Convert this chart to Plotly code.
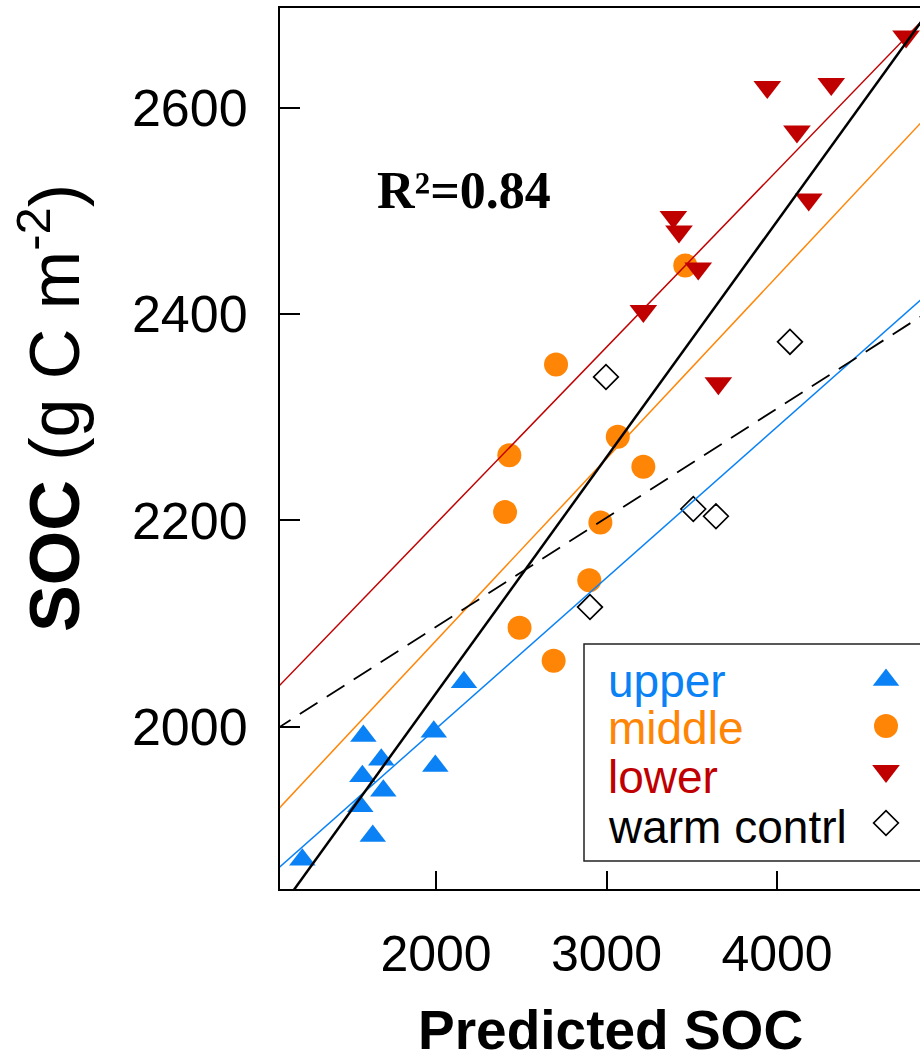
import plotly.graph_objects as go

# ---------------- data ----------------
upper_x = [2164, 1987, 1574, 1679, 1568, 1996, 1691, 1556, 1629, 1216]
upper_y = [2043, 1995, 1991, 1968, 1952, 1962, 1938, 1923, 1894, 1871]

middle_x = [2704, 2430, 3066, 3216, 2405, 2964, 2899, 2490, 2690, 3462]
middle_y = [2351, 2263, 2281, 2252, 2208, 2198, 2142, 2096, 2064, 2447]

lower_x = [4757, 3943, 4318, 4117, 4186, 3392, 3425, 3538, 3216, 3656]
lower_y = [2669, 2620, 2623, 2577, 2511, 2494, 2480, 2444, 2403, 2333]

warm_x = [2997, 4076, 3509, 3642, 2903]
warm_y = [2339, 2373, 2211, 2204, 2116]

# fitted lines y = a + b*x
line_names = ["upper", "middle", "lower", "all", "warm contrl"]
line_a = [1705.7, 1730.4, 1854.9, 1575.1, 1885.2]
line_b = [0.1462, 0.1765, 0.1710, 0.2287, 0.1058]

x_ticks = [2000, 3000, 4000]
y_ticks = [2000, 2200, 2400, 2600]
x_range = [1085.0, 4838.7]
y_range = [1842.7, 2696.6]

legend_labels = ["upper", "middle", "lower", "warm contrl"]

# ---------------- styles ----------------
BLUE = "#0A82F5"
ORANGE = "#FF8506"
RED = "#C00000"
BLACK = "#000000"
SANS = "Liberation Sans, Arial, sans-serif"

FIG_W, FIG_H = 920, 1060
PL, PR, PT, PB = 280, 920, 8, 889          # plot area in page pixels


def px(xp):
    return (xp - PL) / (PR - PL)


def py(yp):
    return (PB - yp) / (PB - PT)


def paper_to_data_x(f):
    return x_range[0] + f * (x_range[1] - x_range[0])


def paper_to_data_y(f):
    return y_range[0] + f * (y_range[1] - y_range[0])


fig = go.Figure()

marker_specs = [
    (upper_x, upper_y, "triangle-up", BLUE, 23, None),
    (middle_x, middle_y, "circle", ORANGE, 24, None),
    (lower_x, lower_y, "triangle-down", RED, 24, None),
    (warm_x, warm_y, "diamond-open", BLACK, 19, 1.7),
]
for xs, ys, sym, col, sz, lw in marker_specs:
    mk = dict(symbol=sym, color=col, size=sz, opacity=1)
    mk["line"] = dict(color=col, width=lw if lw is not None else 0)
    fig.add_trace(go.Scatter(x=xs, y=ys, mode="markers", marker=mk,
                             showlegend=False, hoverinfo="skip"))

line_styles = [
    dict(color=BLUE, width=1.5),
    dict(color=ORANGE, width=1.5),
    dict(color=RED, width=1.5),
    dict(color=BLACK, width=2.5),
    dict(color=BLACK, width=1.8, dash="21px,11px"),
]
for a, b, st in zip(line_a, line_b, line_styles):
    xs = [x_range[0] - 200, x_range[1] + 200]
    ys = [a + b * v for v in xs]
    fig.add_trace(go.Scatter(x=xs, y=ys, mode="lines", line=st,
                             showlegend=False, hoverinfo="skip"))

# ---- custom legend (marker on the right of the label) ----
leg_text_y = [681, 728, 777, 827]
leg_mark_y = [680, 726, 771, 823]
leg_cols = [BLUE, ORANGE, RED, BLACK]
leg_syms = ["triangle-up", "circle", "triangle-down", "diamond-open"]
leg_sizes = [23, 24, 24, 19]

fig.add_shape(type="rect", xref="paper", yref="paper",
              x0=px(584), x1=px(960), y0=py(861), y1=py(644),
              line=dict(color="#222222", width=1.5), fillcolor="white", layer="below")

for lab, ty, col in zip(legend_labels, leg_text_y, leg_cols):
    fig.add_annotation(text=lab, xref="paper", yref="paper", x=px(606), y=py(ty),
                       xanchor="left", yanchor="middle", showarrow=False,
                       font=dict(family=SANS, size=46, color=col))

for sym, col, sz, my in zip(leg_syms, leg_cols, leg_sizes, leg_mark_y):
    open_sym = sym.endswith("open")
    fig.add_trace(go.Scatter(
        x=[paper_to_data_x(px(886))], y=[paper_to_data_y(py(my))], mode="markers",
        marker=dict(symbol=sym, color=col, size=sz, opacity=1,
                    line=dict(color=col, width=1.7 if open_sym else 0)),
        showlegend=False, hoverinfo="skip"))

# ---- texts ----
fig.add_annotation(text="<b>R²=0.84</b>", xref="paper", yref="paper",
                   x=px(464), y=py(190), xanchor="center", yanchor="middle",
                   showarrow=False,
                   font=dict(family="Liberation Serif, Times New Roman, serif", size=52, color=BLACK))

fig.add_annotation(text="<b>SOC</b> (g C m<sup>-2</sup>)", xref="paper", yref="paper",
                   x=px(50), y=py(408), xanchor="center", yanchor="middle",
                   textangle=-90, showarrow=False,
                   font=dict(family=SANS, size=70, color=BLACK))

fig.add_annotation(text="<b>Predicted SOC</b>", xref="paper", yref="paper",
                   x=px(610), y=py(1030), xanchor="center", yanchor="middle",
                   showarrow=False,
                   font=dict(family=SANS, size=55, color=BLACK))

fig.update_layout(
    width=FIG_W, height=FIG_H,
    margin=dict(l=PL, r=FIG_W - PR, t=PT, b=FIG_H - PB, pad=0),
    paper_bgcolor="white", plot_bgcolor="white",
    showlegend=False,
    xaxis=dict(range=x_range, tickvals=x_ticks, ticktext=[str(v) for v in x_ticks],
               ticks="inside", ticklen=18, tickwidth=2, tickcolor=BLACK,
               showline=True, linecolor=BLACK, linewidth=2, mirror=True,
               showgrid=False, zeroline=False, ticklabelstandoff=20,
               tickfont=dict(family=SANS, size=50, color=BLACK)),
    yaxis=dict(range=y_range, tickvals=y_ticks, ticktext=[str(v) for v in y_ticks],
               ticks="inside", ticklen=20, tickwidth=2, tickcolor=BLACK,
               showline=True, linecolor=BLACK, linewidth=2, mirror=False,
               showgrid=False, zeroline=False, ticklabelstandoff=20,
               tickfont=dict(family=SANS, size=52, color=BLACK)),
)

# remove the default 8px body margin so the 920x1060 figure fills the window exactly
fig.write_html(
    "out.html",
    config={"displayModeBar": False},
    post_script=("document.body.style.margin='0';"
                 "document.body.style.overflow='hidden';"
                 "document.documentElement.style.overflow='hidden';"),
)
